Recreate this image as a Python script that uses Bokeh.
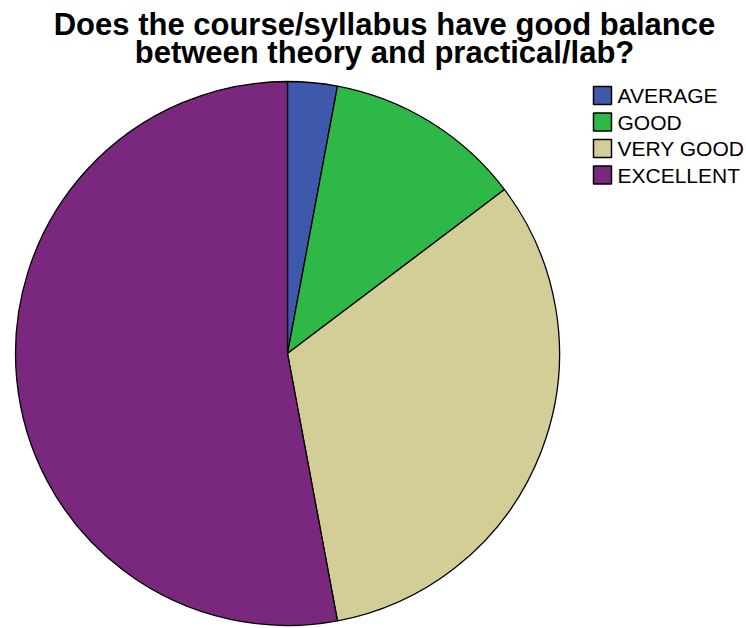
import math
from bokeh.plotting import figure
from bokeh.models import Range1d, ColumnDataSource
from bokeh.core.properties import value
from bokeh.embed import file_html
from bokeh.resources import INLINE

categories = ["AVERAGE", "GOOD", "VERY GOOD", "EXCELLENT"]
counts = [1, 4, 11, 18]
colors = ["#3E58AC", "#2EB848", "#D3CE97", "#79287D"]
title_lines = ["Does the course/syllabus have good balance",
               "between theory and practical/lab?"]

W, H = 746, 628

def sy(y):
    return H - y

p = figure(width=W, height=H, output_backend="svg", toolbar_location=None,
           x_range=Range1d(0, W), y_range=Range1d(0, H),
           min_border=0)
p.axis.visible = False
p.grid.visible = False
p.outline_line_color = None
p.background_fill_color = "white"
p.border_fill_color = "white"

# pie
total = sum(counts)
starts, ends = [], []
cum = 0.0
for c in counts:
    a0 = math.pi / 2 - 2 * math.pi * cum / total
    cum += c
    a1 = math.pi / 2 - 2 * math.pi * cum / total
    starts.append(a0)
    ends.append(a1)
src = ColumnDataSource(dict(cat=categories, start=starts, end=ends, color=colors))
cx, cy, r = 287, sy(353), 272
p.wedge(x=cx, y=cy, radius=r, start_angle="start", end_angle="end",
        direction="clock", fill_color="color", line_color="black",
        line_width=1.3, source=src)

# title
p.text(x=[384, 384], y=[sy(24), sy(52)], text=title_lines,
       text_font=value("Liberation Sans"), text_font_style="bold",
       text_font_size="31px", text_align="center", text_baseline="alphabetic",
       text_color="black")

# legend
ly = [95, 121.5, 148, 174.5]
lsrc = ColumnDataSource(dict(x=[602] * 4, y=[sy(v) for v in ly],
                             tx=[617] * 4, cat=categories, color=colors))
p.rect(x="x", y="y", width=18, height=18, fill_color="color",
       line_color="black", line_width=1.5, source=lsrc)
p.text(x="tx", y="y", text="cat", text_font=value("Liberation Sans"),
       text_font_size="21px", text_align="left", text_baseline="middle",
       text_color="black", source=lsrc)

open("out.html", "w").write(file_html(p, INLINE))
